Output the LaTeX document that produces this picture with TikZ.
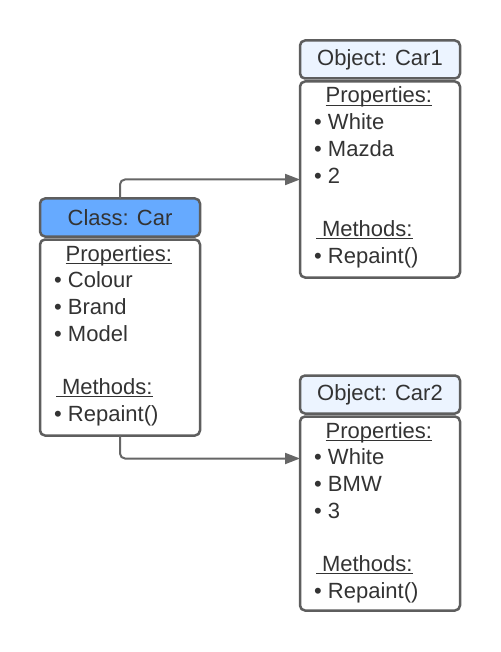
\documentclass[tikz,border=0pt]{standalone}
\usepackage{fontspec}
\setmainfont{Liberation Sans}
\usepackage{tikz}
\usetikzlibrary{arrows.meta}
\definecolor{classblue}{RGB}{102,170,255}
\definecolor{objblue}{RGB}{236,244,255}
\definecolor{edgegray}{RGB}{94,94,94}
\definecolor{linegray}{RGB}{102,102,102}
\definecolor{inkgray}{RGB}{51,51,51}

\begin{document}
\begin{tikzpicture}[x=1pt,y=-1pt,line cap=round,line join=round,>={Triangle[length=15pt,width=11pt]},
    box/.style={draw=edgegray,line width=2.5pt,rounded corners=5pt,inner sep=0pt,outer sep=0pt},
    hdr/.style={box,minimum width=160pt,minimum height=38pt,text=inkgray,font=\fontsize{22}{26.7}\selectfont},
    body/.style={box,fill=white,minimum width=160pt},
    txt/.style={anchor=base west,inner sep=0pt,text=inkgray,font=\fontsize{22}{26.7}\selectfont},
    uline/.style={draw=inkgray,line width=1.2pt,line cap=butt},
    conn/.style={->,draw=linegray,line width=2pt,rounded corners=5pt}]
      \useasboundingbox (0,0) rectangle (500,652);
      % class
      \node[hdr,fill=classblue] (clshdr) at (120,217.5) {Class: Car};
      \node[body,minimum height=196pt] (clsbody) at (120,337.5) {};
      % objects
      \node[hdr,fill=objblue] (carAhdr) at (380,59.5) {Object: Car1};
      \node[body,minimum height=196pt] (carAbody) at (380,179.5) {};
      \node[hdr,fill=objblue] (carBhdr) at (380,394.5) {Object: Car2};
      \node[body,minimum height=194pt] (carBbody) at (380,513.5) {};
      % texts
      \foreach \b/\pa/\pb/\pc in {clsbody/Colour/Brand/Model, carAbody/White/Mazda/2, carBbody/White/BMW/3} {
        \node[txt] (\b-p) at ([xshift=25.5pt,yshift=-21.5pt]\b.north west) {Properties:};
        \node[txt] (\b-a) at ([xshift=14pt,yshift=-48.2pt]\b.north west) {\textbullet\ \pa};
        \node[txt] (\b-b) at ([xshift=14pt,yshift=-74.9pt]\b.north west) {\textbullet\ \pb};
        \node[txt] (\b-c) at ([xshift=14pt,yshift=-101.6pt]\b.north west) {\textbullet\ \pc};
        \node[txt] (\b-m) at ([xshift=16pt,yshift=-155pt]\b.north west) {\hspace*{5.8pt}Methods:};
        \node[txt] (\b-r) at ([xshift=14pt,yshift=-181.7pt]\b.north west) {\textbullet\ Repaint()};
        \draw[uline] ([yshift=-2.2pt]\b-p.base west) -- ([yshift=-2.2pt]\b-p.base east);
        \draw[uline] ([yshift=-2.2pt]\b-m.base west) -- ([yshift=-2.2pt]\b-m.base east);
      }
      % connectors
      \draw[conn] (clshdr.north) |- (carAbody.west);
      \draw[conn] (clsbody.south) |- ([yshift=-42pt]carBbody.north west);
\end{tikzpicture}
\end{document}
